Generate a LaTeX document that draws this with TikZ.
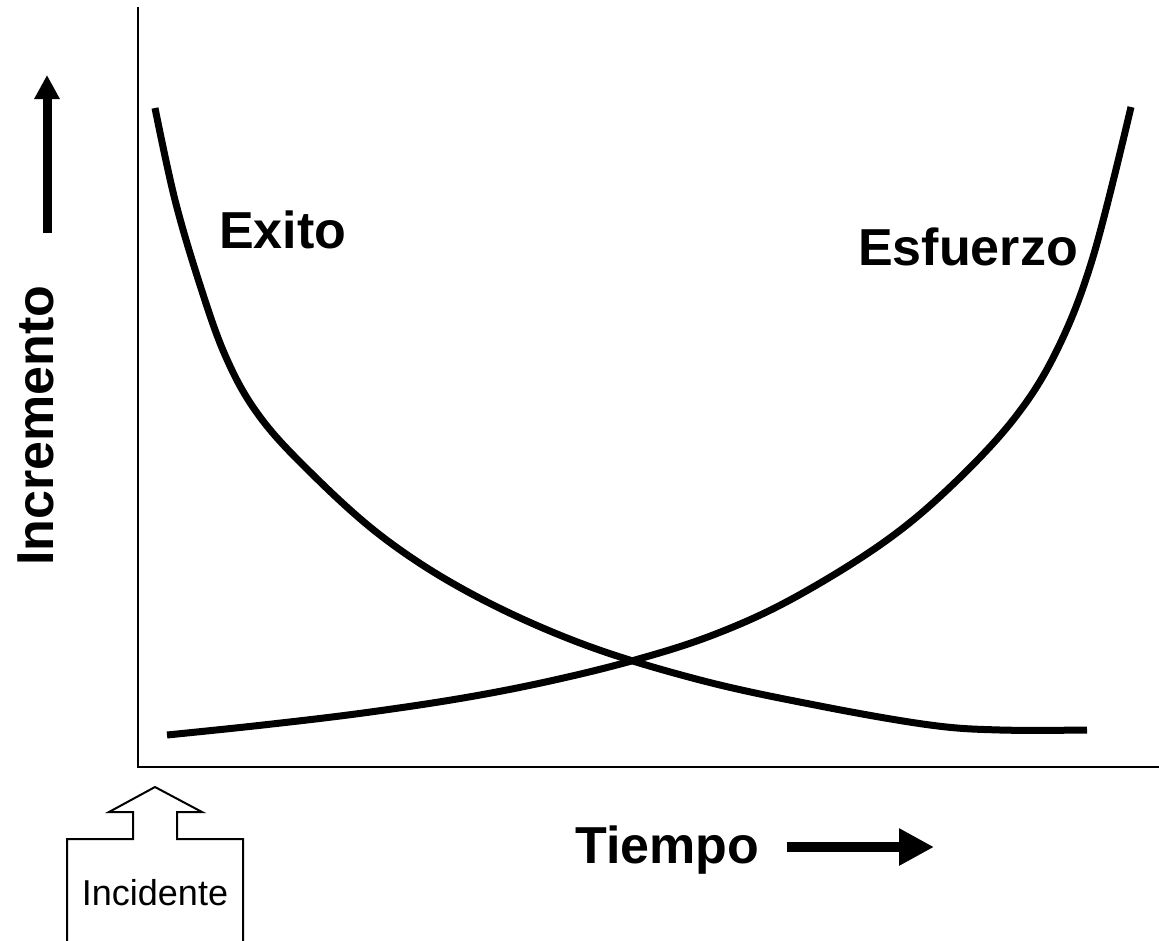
\documentclass[tikz,border=0pt]{standalone}
\usepackage{fontspec}
\setmainfont{Liberation Sans}
\usetikzlibrary{arrows.meta}
\begin{document}
\begin{tikzpicture}[x=1pt,y=-1pt,
  axis/.style={line width=2.5pt},
  curve/.style={line width=7pt,line join=round},
  biglabel/.style={font=\fontsize{52}{60}\selectfont\bfseries,inner sep=0pt},
  smalllabel/.style={font=\fontsize{36}{42}\selectfont,inner sep=0pt}]
\useasboundingbox (0,0) rectangle (1159,940);
% axes
\coordinate (otop) at (138,7);
\coordinate (orig) at (138,767);
\coordinate (xend) at (1159,767);
\draw[axis] (otop) -- (138,768.25);
\draw[axis] (136.75,767) -- (xend);
% curves
\draw[curve] plot[smooth,tension=0.6] coordinates {
 (155,108) (175,200) (200,285) (225,355) (255,410) (300,462) (380,535)
 (470,593) (580,643) (700,680) (820,706) (930,725) (1000,730) (1087,730)};
\draw[curve] plot[smooth,tension=0.6] coordinates {
 (167,735) (263,725) (363,713) (463,698) (550,681) (635,660) (713,635)
 (790,600) (880,545) (947,490) (1013,420) (1057,350) (1093,257) (1131,107)};
% labels
\node[biglabel,anchor=base west] (exito) at (219,248) {Exito};
\node[biglabel,anchor=base east] (esfuerzo) at (1078,265) {Esfuerzo};
\node[biglabel,anchor=base west] (tiempo) at (575,863) {Tiempo};
\node[biglabel,anchor=base west,rotate=90] (incr) at (53,566) {Incremento};
% fat arrows
\coordinate (ua) at (47,233);
\coordinate (ub) at (47,75);
\draw[line width=9pt,-{Triangle[length=24pt,width=24pt]}] (ua) -- (ub);
\coordinate (ra) at (787,847);
\coordinate (rb) at (934,847);
\draw[line width=10pt,-{Triangle[length=35pt,width=35pt]}] (ra) -- (rb);
% incident box
\node[smalllabel,anchor=base] (inc) at (155,905) {Incidente};
\draw[line width=2pt,line join=miter] (67,941) -- (67,839) -- (133,839) -- (133,812) -- (109,812)
  -- (155,787) -- (202,812) -- (177,812) -- (177,839) -- (243,839) -- (243,941);
\end{tikzpicture}
\end{document}
